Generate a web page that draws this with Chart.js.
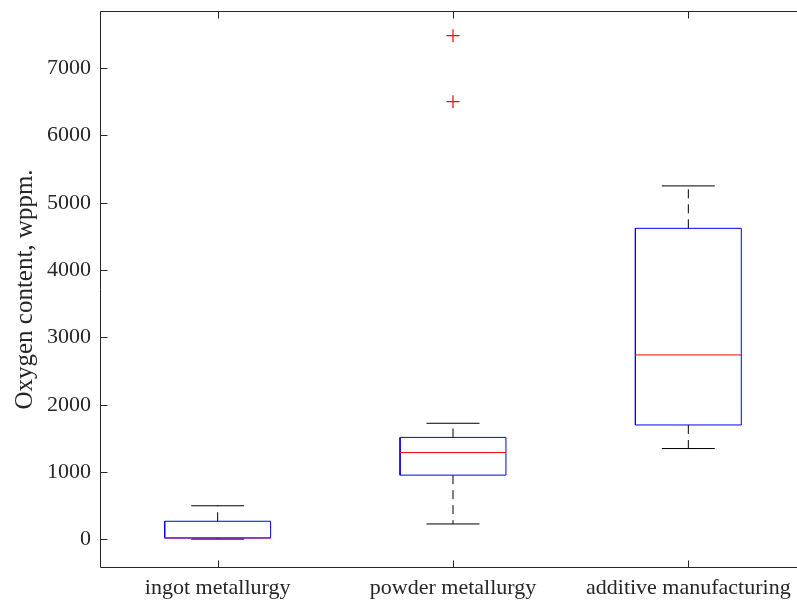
<!DOCTYPE html>
<html><head><meta charset="utf-8">
<script src="https://cdn.jsdelivr.net/npm/chart.js@4"></script>
<style>html,body{margin:0;padding:0;overflow:hidden;background:#fff;width:797px;height:600px}canvas{display:block}</style>
</head><body>
<canvas id="c" width="810" height="600"></canvas>
<script>
// ---- data ----
const categories = ['ingot metallurgy', 'powder metallurgy', 'additive manufacturing'];
const whiskerLow  = [5, 230, 1350];
const quartile1   = [20, 955, 1700];
const medians     = [25, 1290, 2740];
const quartile3   = [270, 1515, 4620];
const whiskerHigh = [500, 1725, 5250];
const outlierGroup  = [2, 2];        // 1-based category index
const outlierValues = [6500, 7480];
const yTicks = [0, 1000, 2000, 3000, 4000, 5000, 6000, 7000];
const yTitle = 'Oxygen content, wppm.';

// ---- styles ----
const BOX_HALF = 0.225, CAP_HALF = 0.1125;
const AX = '#262626';
const FONT = 'Liberation Serif';

const gap = x => ({x, y: null});
const boxPts = [], medPts = [], upW = [], loW = [], caps = [];
categories.forEach((c, i) => {
  const p = i + 1;
  boxPts.push({x: p - BOX_HALF, y: quartile1[i]}, {x: p + BOX_HALF, y: quartile1[i]},
              {x: p + BOX_HALF, y: quartile3[i]}, {x: p - BOX_HALF, y: quartile3[i]},
              {x: p - BOX_HALF, y: quartile1[i]}, gap(p));
  medPts.push({x: p - BOX_HALF, y: medians[i]}, {x: p + BOX_HALF, y: medians[i]}, gap(p));
  upW.push({x: p, y: quartile3[i]}, {x: p, y: whiskerHigh[i]}, gap(p));
  loW.push({x: p, y: quartile1[i]}, {x: p, y: whiskerLow[i]}, gap(p));
  caps.push({x: p - CAP_HALF, y: whiskerHigh[i]}, {x: p + CAP_HALF, y: whiskerHigh[i]}, gap(p),
            {x: p - CAP_HALF, y: whiskerLow[i]}, {x: p + CAP_HALF, y: whiskerLow[i]}, gap(p));
});
const outPts = outlierValues.map((v, k) => ({x: outlierGroup[k], y: v}));

const lineDs = (data, color, dash, order) => ({
  type: 'scatter', data, showLine: true, spanGaps: false, borderColor: color, borderWidth: 1,
  borderDash: dash, pointRadius: 0, fill: false, tension: 0, order
});

const frame = {
  id: 'frame',
  afterDatasetsDraw(chart) {
    const {ctx, chartArea: a, scales: {x, y}} = chart;
    ctx.save();
    ctx.strokeStyle = AX; ctx.lineWidth = 1;
    const L = Math.round(a.left) + 0.5, R = Math.round(a.right) - 0.5,
          T = Math.round(a.top) + 0.5, B = Math.round(a.bottom) - 0.5;
    ctx.beginPath();
    ctx.moveTo(L, T); ctx.lineTo(R, T); ctx.lineTo(R, B); ctx.lineTo(L, B); ctx.closePath();
    const tl = 7;
    yTicks.forEach(v => {
      const py = Math.round(y.getPixelForValue(v)) + 0.5;
      ctx.moveTo(L, py); ctx.lineTo(L + tl, py);
      ctx.moveTo(R, py); ctx.lineTo(R - tl, py);
    });
    categories.forEach((c, i) => {
      const px = Math.round(x.getPixelForValue(i + 1)) + 0.5;
      ctx.moveTo(px, B); ctx.lineTo(px, B - tl);
      ctx.moveTo(px, T); ctx.lineTo(px, T + tl);
    });
    ctx.stroke();
    ctx.restore();
  }
};

new Chart(document.getElementById('c'), {
  type: 'scatter',
  data: {
    datasets: [
      lineDs(medPts, '#ff0000', [], 0),
      lineDs(boxPts, '#0000ff', [], 1),
      lineDs(caps, '#000000', [], 2),
      lineDs(upW, '#000000', [9, 6], 2),
      lineDs(loW, '#000000', [9, 6], 2),
      { type: 'scatter', data: outPts, showLine: false, pointStyle: 'cross', pointRadius: 6.5,
        borderColor: '#ff0000', backgroundColor: '#ff0000', borderWidth: 1.2, order: 0 }
    ]
  },
  options: {
    responsive: false, animation: false,
    layout: { autoPadding: false, padding: { top: 11, right: 4, left: 0, bottom: 0 } },
    plugins: { legend: { display: false }, tooltip: { enabled: false } },
    scales: {
      x: {
        type: 'linear', min: 0.5, max: 3.5,
        afterBuildTicks: s => { s.ticks = categories.map((c, i) => ({ value: i + 1 })); },
        ticks: { callback: v => categories[v - 1] ?? '', font: { family: FONT, size: 22 }, color: AX,
                 padding: 7, maxRotation: 0, autoSkip: false },
        grid: { display: false, drawTicks: false }, border: { display: false },
        afterFit: s => { s.height = 32; s.paddingLeft = 0; s.paddingRight = 0; }
      },
      y: {
        min: -424, max: 7847,
        afterBuildTicks: s => { s.ticks = yTicks.map(v => ({ value: v })); },
        ticks: { callback: v => String(v), font: { family: FONT, size: 22 }, color: AX, padding: 9 },
        grid: { display: false, drawTicks: false }, border: { display: false },
        title: { display: true, text: yTitle, color: AX, font: { family: FONT, size: 25 },
                 padding: { top: 10, bottom: 0 } },
        afterFit: s => { s.width = 100; s.paddingTop = 0; s.paddingBottom = 0; }
      }
    }
  },
  plugins: [frame]
});
</script>
</body></html>
